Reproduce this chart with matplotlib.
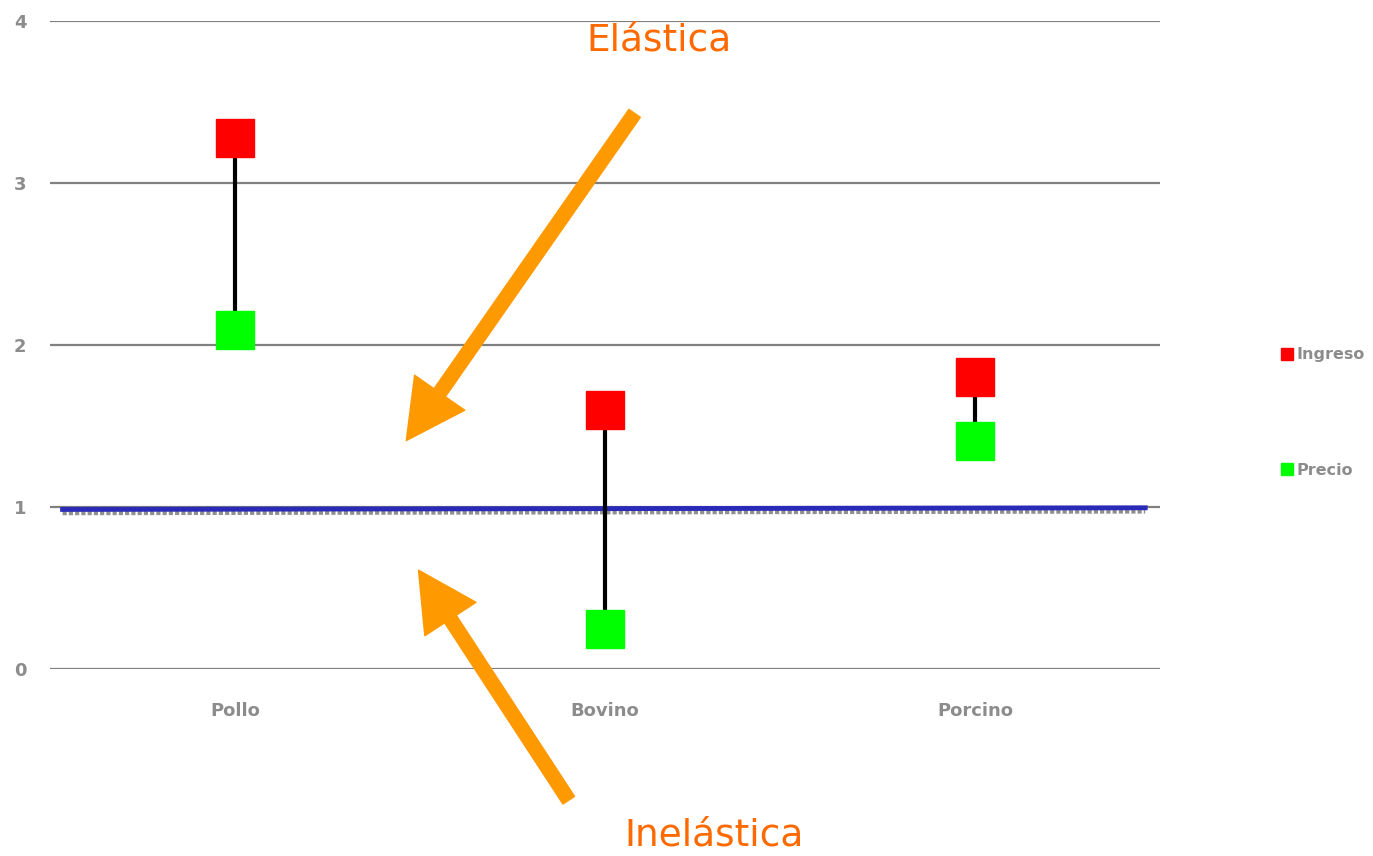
import matplotlib
matplotlib.use("Agg")
import matplotlib.pyplot as plt
from matplotlib.lines import Line2D

categories = ["Pollo", "Bovino", "Porcino"]
ingreso = [3.28, 1.60, 1.80]
precio = [2.09, 0.25, 1.41]
yticks = [0, 1, 2, 3, 4]

fig = plt.figure(figsize=(13.73, 8.56), dpi=100)
ax = fig.add_axes([50/1373, 1-669/856, (1160-50)/1373, (669-21)/856])
x = list(range(len(categories)))

gray = "#808080"
lab_gray = "#8c8c8c"
for t in yticks:
    ax.axhline(t, color=gray, lw=1.6, zorder=1)

# blue reference line with gray shadow
ax.plot([-0.466, 2.46], [0.962, 0.972], color="#909090", lw=3, ls=(0, (1, 0.5)), zorder=2)
ax.plot([-0.466, 2.46], [0.985, 0.995], color="#2a2ab8", lw=3.5, zorder=3)

ax.vlines(x, precio, ingreso, color="black", lw=3, zorder=4)
ax.plot(x, ingreso, ls="none", marker="s", ms=27, color="#ff0000", zorder=5)
ax.plot(x, precio, ls="none", marker="s", ms=27, color="#00ff00", zorder=5)

ax.set_xlim(-0.5, 2.5)
ax.set_ylim(0, 4)
ax.set_yticks(yticks)
ax.set_xticks(x)
ax.set_xticklabels(categories)
for s in ax.spines.values():
    s.set_visible(False)
ax.tick_params(axis="both", length=0, colors=lab_gray, labelsize=13)
ax.tick_params(axis="y", pad=17)
ax.tick_params(axis="x", pad=24)
for lab in ax.get_xticklabels() + ax.get_yticklabels():
    lab.set_fontweight("bold")
    lab.set_color(lab_gray)

arrow_c = "#ff9900"
text_c = "#ff6a00"
ap = dict(width=10, headwidth=44, headlength=42, color=arrow_c, shrink=0)
ax.annotate("", xy=(0.463, 1.41), xytext=(1.08, 3.43), arrowprops=ap, annotation_clip=False, zorder=6)
ax.annotate("", xy=(0.496, 0.61), xytext=(0.902, -0.81), arrowprops=ap, annotation_clip=False, zorder=6)
ax.text(1.146, 3.88, "Elástica", color=text_c, fontsize=27, ha="center", va="center", clip_on=False)
ax.text(1.295, -1.025, "Inelástica", color=text_c, fontsize=27, ha="center", va="center", clip_on=False)

handles = [Line2D([], [], ls="none", marker="s", ms=9, color="#ff0000"),
           Line2D([], [], ls="none", marker="s", ms=9, color="#00ff00")]
leg = fig.legend(handles, ["Ingreso", "Precio"], loc="upper left",
                 bbox_to_anchor=(1266/1373, 1-333/856), frameon=False,
                 labelspacing=6.3, handlelength=0.8, handletextpad=0.2,
                 prop=dict(size=11.5, weight="bold"))
for t in leg.get_texts():
    t.set_color(lab_gray)

fig.savefig("out.png", dpi=100)
